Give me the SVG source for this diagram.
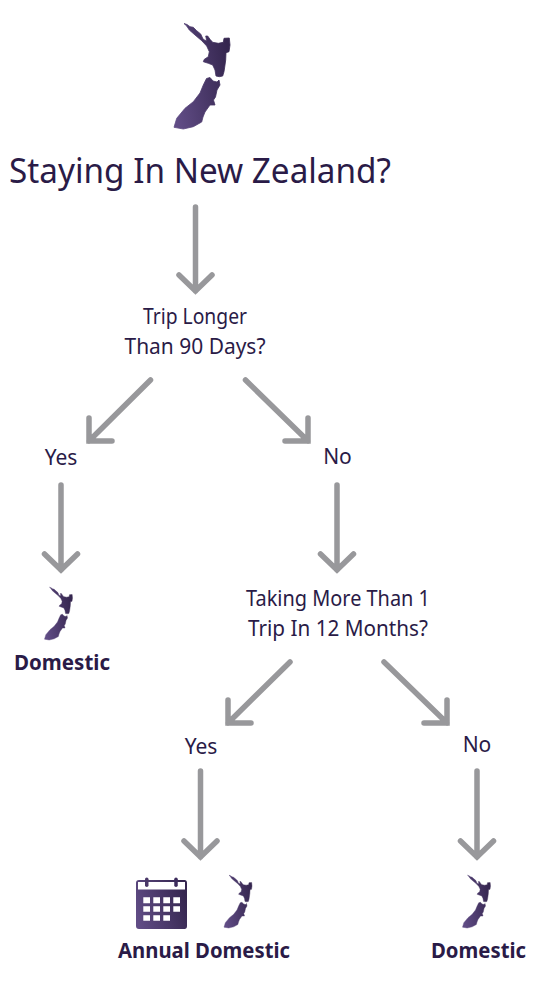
<svg xmlns="http://www.w3.org/2000/svg" width="559" height="997" viewBox="0 0 559 997">
<style>
text{font-family:"Noto Sans","Open Sans","Liberation Sans",sans-serif;fill:#2a1b47;text-anchor:middle;font-size:21px}
.b{font-weight:700}
.t{font-size:34px;text-anchor:start}
#connectors path{fill:none;stroke:#98989b;stroke-width:5.500;stroke-linecap:round;stroke-linejoin:miter}
</style>
<defs>
<linearGradient id="g" x1="0" y1="0.7" x2="1" y2="0.4"><stop offset="0" stop-color="#604c85"/><stop offset="1" stop-color="#35264f"/></linearGradient>
<g id="nz"><path fill="url(#g)" stroke="url(#g)" stroke-width="0.8" stroke-linejoin="round" d="M184 23.500L187 24.500L190 26.700L193.300 27.300L196.700 30.700L200.700 34L202.700 38.300L204.300 40L206.700 40.700L205.700 36L207.700 36L210 39.300L212.700 42.300L218.300 43.300L223.300 42.300L224 38.300L229.300 38L230 45L229 51.700L226 52.700L225.700 60L225 65L224 71.700L222.700 76L219.300 76.700L216 76L215 70L212.700 65L208.300 63.300L203.300 61.700L204.300 59.300L208.300 56.700L209.300 51.700L206.700 46L201.700 40.700L195 35L189.300 30L186.700 26Z M206.500 78.500L210 77.500L213 81L217 82L219 80L220 85L217 90L215.500 97L213.500 100L215 105L210 105L205 112L203 117L201.700 122L193.300 126.700L183.300 129L174 127.300L176.700 118.300L185 108.300L193.300 101.700L200 93L203.300 85Z"/></g>
</defs>
<g id="connectors">
<path d="M195.500 207V291M179 275L195.500 291L212 275"/>
<path d="M150.500 380L89 441M89 418V441H112"/>
<path d="M245.500 380L308 441M285 441H308V418"/>
<path d="M61 485V570M44.500 554L61 570L77.500 554"/>
<path d="M337 485V570M320.500 554L337 570L353.500 554"/>
<path d="M290 662L228 723M228 700V723H251"/>
<path d="M384 662L447 723M424 723H447V700"/>
<path d="M200.500 771V857M184 841L200.500 857L217 841"/>
<path d="M477 771V857M460.500 841L477 857L493.500 841"/>
</g>
<g id="n-start"><use href="#nz"/><text class="t" x="9" y="183" textLength="382" lengthAdjust="spacingAndGlyphs">Staying In New Zealand?</text></g>
<g id="n-q1"><text x="195" y="324" textLength="104" lengthAdjust="spacingAndGlyphs">Trip Longer</text><text x="195" y="354" textLength="141" lengthAdjust="spacingAndGlyphs">Than 90 Days?</text></g>
<g id="n-yes1"><text x="61" y="465">Yes</text></g>
<g id="n-no1"><text x="337.500" y="464">No</text></g>
<g id="n-dom1"><use href="#nz" transform="translate(-42.500 575.500) scale(0.5)"/><text class="b" x="62" y="670" textLength="96" lengthAdjust="spacingAndGlyphs">Domestic</text></g>
<g id="n-q2"><text x="338" y="606" textLength="184" lengthAdjust="spacingAndGlyphs">Taking More Than 1</text><text x="338" y="636" textLength="180" lengthAdjust="spacingAndGlyphs">Trip In 12 Months?</text></g>
<g id="n-yes2"><text x="201" y="754">Yes</text></g>
<g id="n-no2"><text x="477" y="752">No</text></g>
<g id="n-annual">
<path fill="url(#g)" fill-rule="evenodd" d="M139 880H184.500Q187 880 187 883V926Q187 929 184.500 929H139Q136 929 136 926V883Q136 880 139 880ZM138 882V889.500H185V882Z"/>
<rect x="145" y="877.500" width="3.500" height="9.500" rx="1.750" fill="#4a3868"/><rect x="174.250" y="877.500" width="3.500" height="9.500" rx="1.750" fill="#3d2c5c"/>
<path fill="#fff" d="M143.300 897.300h6.700v6h-6.700zM153.300 897.300h6.700v6h-6.700zM163.300 897.300h6.700v6h-6.700zM173.300 897.300h6.700v6h-6.700zM143.300 906.300h6.700v5.500h-6.700zM153.300 906.300h6.700v5.500h-6.700zM163.300 906.300h6.700v5.500h-6.700zM173.300 906.300h6.700v5.500h-6.700zM143.300 915.300h6.700v5.500h-6.700zM153.300 915.300h6.700v5.500h-6.700zM163.300 915.300h6.700v5.500h-6.700z"/>
<use href="#nz" transform="translate(137 863.500) scale(0.5)"/>
<text class="b" x="204" y="958" textLength="172" lengthAdjust="spacingAndGlyphs">Annual Domestic</text></g>
<g id="n-dom2"><use href="#nz" transform="translate(375.500 863.500) scale(0.5)"/><text class="b" x="478.500" y="958" textLength="95" lengthAdjust="spacingAndGlyphs">Domestic</text></g>
</svg>
